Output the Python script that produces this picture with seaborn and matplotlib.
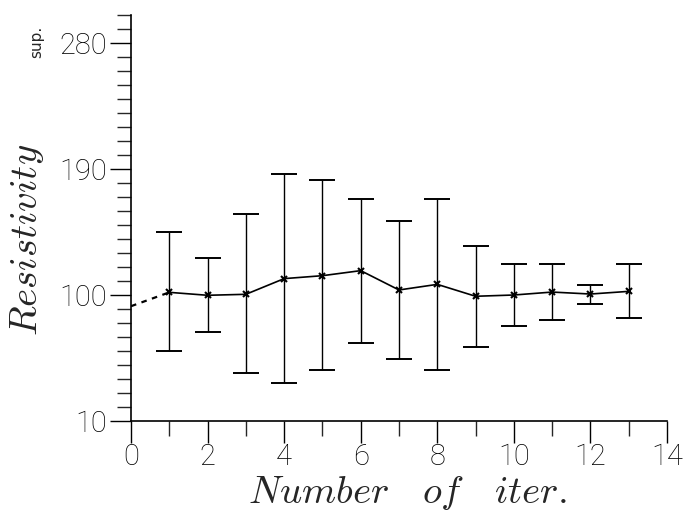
import numpy as np
import pandas as pd
import matplotlib
matplotlib.use("Agg")
import matplotlib.pyplot as plt
from matplotlib.ticker import MultipleLocator
import seaborn as sns

# ==================================================
# Data
# ==================================================
iterations = [1, 2, 3, 4, 5, 6, 7, 8, 9, 10, 11, 12, 13]
resistivity = [101.9, 99.8, 100.5, 111.7, 113.8, 117.4, 103.6, 107.6, 99.1, 100.0, 102.1, 100.7, 102.6]
upper = [144.8, 126.2, 157.6, 186.4, 182.1, 168.8, 152.6, 168.8, 135.0, 121.9, 121.9, 107.1, 121.9]
lower = [60.2, 73.8, 44.1, 36.9, 46.4, 65.5, 54.5, 46.4, 63.1, 78.1, 81.9, 93.6, 83.6]

start_x = [0, 1]
start_y = [92.0, 101.9]

xticks = [0, 2, 4, 6, 8, 10, 12, 14]
yticks = [10, 100, 190, 280]

df = pd.DataFrame({"iter": iterations, "res": resistivity, "up": upper, "lo": lower})

# ==================================================
# Plot
# ==================================================
sns.set_style("ticks")
plt.rcParams["font.family"] = ["Roboto", "DejaVu Sans"]
plt.rcParams["mathtext.fontset"] = "cm"

fig = plt.figure(figsize=(6.83, 5.13), dpi=100)
ax = fig.add_axes([0.1918, 0.1793, 0.7848, 0.7915])

# error bars
yerr = np.vstack([df["res"] - df["lo"], df["up"] - df["res"]])
ax.errorbar(df["iter"], df["res"], yerr=yerr, fmt="none", ecolor="black",
            elinewidth=1.0, capsize=9.6, capthick=1.4)

# main curve
sns.lineplot(data=df, x="iter", y="res", ax=ax, color="black", linewidth=1.2,
             marker="x", markersize=4, markeredgewidth=1.5, markeredgecolor="black")

# dashed start segment
sns.lineplot(x=start_x, y=start_y, ax=ax, color="black", linewidth=1.6,
             linestyle=(0, (2.5, 2.5)))

ax.set_xlim(0, 14)
ax.set_ylim(10, 300)
ax.set_xticks(xticks)
ax.set_yticks(yticks)
ax.xaxis.set_minor_locator(MultipleLocator(1))
ax.yaxis.set_minor_locator(MultipleLocator(10))

ax.tick_params(axis="both", which="major", length=15, width=1.0, direction="out",
               labelsize=21, color="black", labelcolor="black")
ax.tick_params(axis="x", which="major", length=16, pad=0)
ax.tick_params(axis="y", which="major", pad=2)
ax.tick_params(axis="x", which="minor", length=11, width=1.0)
ax.tick_params(axis="y", which="minor", length=10, width=1.0)
for lab in ax.get_xticklabels() + ax.get_yticklabels():
    lab.set_fontweight("light")

sns.despine(ax=ax)
for side in ["left", "bottom"]:
    ax.spines[side].set_linewidth(1.2)
    ax.spines[side].set_color("black")

ax.set_xlabel("")
ax.set_ylabel("")
fig.text(0.597, 0.02, r"$Number\ \ \ of\ \ \ iter.$", fontsize=28, ha="center", va="baseline")
fig.text(0.039, 0.532, r"$Resistivity$", fontsize=28, rotation=90, ha="center", va="center")
fig.text(0.053, 0.918, "sup.", fontsize=11, rotation=90, ha="center", va="center",
         family="DejaVu Sans")

fig.savefig("out.png", dpi=100)
